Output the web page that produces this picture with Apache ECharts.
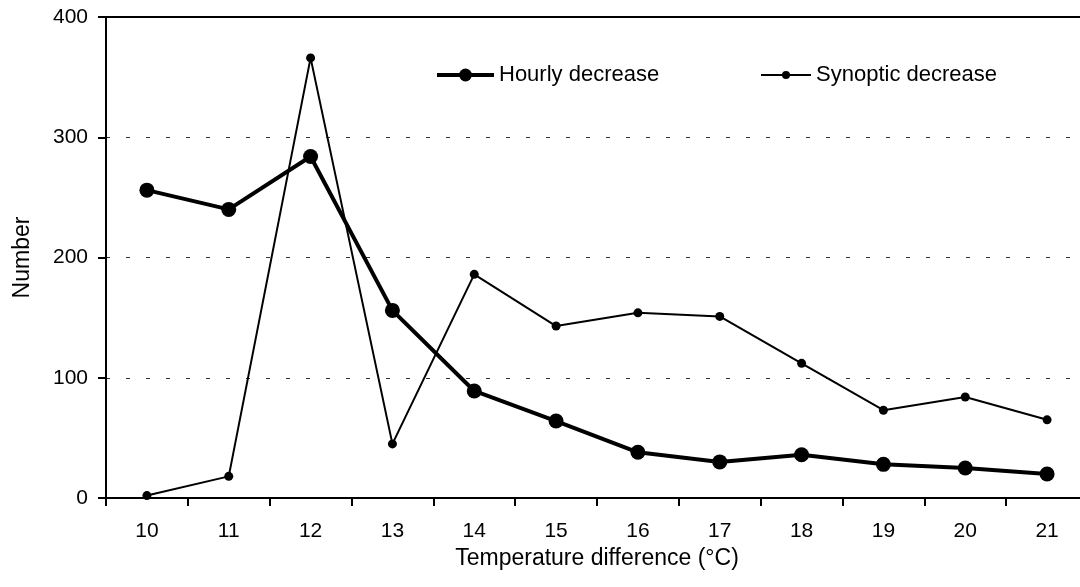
<!DOCTYPE html>
<html><head><meta charset="utf-8">
<script src="https://cdn.jsdelivr.net/npm/echarts@6/dist/echarts.min.js"></script>
<style>html,body{margin:0;padding:0;background:#fff;overflow:hidden;width:1080px;height:587px}#c{width:1088px;height:587px}</style>
</head><body><div id="c"></div>
<script>
const categories = ['10','11','12','13','14','15','16','17','18','19','20','21'];
const hourly = [256, 240, 284, 156, 89, 64, 38, 30, 36, 28, 25, 20];
const synoptic = [2, 18, 366, 45, 186, 143, 154, 151, 112, 73, 84, 65];
const yTicks = [0, 100, 200, 300, 400];

const font = 'Liberation Sans, Arial, sans-serif';
const chart = echarts.init(document.getElementById('c'));
chart.setOption({
  animation: false,
  backgroundColor: '#fff',
  grid: { left: 106, top: 17, bottom: 89, right: 0 },
  legend: [
    { data: ['Hourly decrease'], left: 435, top: 64, padding: 0, itemWidth: 57, itemHeight: 16, itemGap: 5,
      lineStyle: { width: 4, color: '#000' }, itemStyle: { color: '#000' },
      textStyle: { fontFamily: font, fontSize: 22, color: '#000' } },
    { data: ['Synoptic decrease'], left: 760, top: 64, padding: 0, itemWidth: 50, itemHeight: 10, itemGap: 5,
      lineStyle: { width: 2, color: '#000' }, itemStyle: { color: '#000' },
      textStyle: { fontFamily: font, fontSize: 22, color: '#000' } }
  ],
  xAxis: [{
    type: 'category', data: categories, boundaryGap: true,
    name: 'Temperature difference (°C)', nameLocation: 'middle', nameGap: 49,
    nameTextStyle: { fontFamily: font, fontSize: 23, color: '#000' },
    axisLine: { lineStyle: { color: '#000', width: 2 } },
    axisTick: { show: true, length: 8, lineStyle: { color: '#000', width: 2 } },
    axisLabel: { fontFamily: font, fontSize: 21, color: '#000', margin: 23 },
    splitLine: { show: false }
  }, {
    type: 'category', data: categories, position: 'top', boundaryGap: true,
    axisLine: { show: true, lineStyle: { color: '#000', width: 2 } },
    axisTick: { show: false }, axisLabel: { show: false }, splitLine: { show: false }
  }],
  yAxis: {
    type: 'value', min: yTicks[0], max: yTicks[yTicks.length-1], interval: 100,
    name: 'Number', nameLocation: 'middle', nameGap: 72, nameRotate: 90,
    nameTextStyle: { fontFamily: font, fontSize: 23, color: '#000' },
    axisLine: { show: true, lineStyle: { color: '#000', width: 2 } },
    axisTick: { show: true, length: 8, lineStyle: { color: '#000', width: 2 } },
    axisLabel: { fontFamily: font, fontSize: 21, color: '#000', margin: 18 },
    splitLine: { show: true, lineStyle: { color: '#333', width: 1, type: [4, 16] } }
  },
  series: [
    { name: 'Hourly decrease', type: 'line', data: hourly, symbol: 'circle', symbolSize: 15,
      lineStyle: { color: '#000', width: 4 }, itemStyle: { color: '#000' }, z: 3 },
    { name: 'Synoptic decrease', type: 'line', data: synoptic, symbol: 'circle', symbolSize: 9,
      lineStyle: { color: '#000', width: 2 }, itemStyle: { color: '#000' }, z: 2 }
  ]
});
</script></body></html>
